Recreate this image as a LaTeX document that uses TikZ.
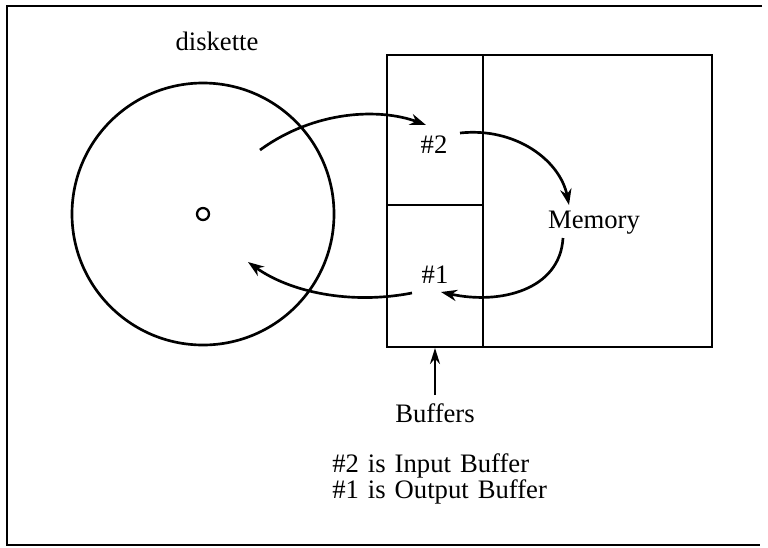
\documentclass[tikz,border=0pt]{standalone}
\usepackage{fontspec}
\setmainfont[WordSpace=1.35]{Liberation Serif}
\usetikzlibrary{arrows.meta}
\begin{document}
\begin{tikzpicture}[x=0.75pt,y=-0.75pt,
  lbl/.style={inner sep=0pt, anchor=base, font=\fontsize{20}{24}\selectfont},
  flow/.style={line width=2pt, -{Stealth[length=12pt,width=8.5pt]}},
  frame/.style={line width=1.8pt}]
\useasboundingbox (0,0) rectangle (768,547);
% open frame
\draw[frame] (762,6) -- (7,6) -- (7,545) -- (760,545);
% diskette
\node[circle, draw, line width=2pt, minimum size=262*0.75pt, inner sep=0pt] (disk) at (203,214) {};
\node[circle, draw, line width=1.7pt, minimum size=12*0.75pt, inner sep=0pt] (hole) at (203,214) {};
\node[lbl] (dlabel) at (217,50) {diskette};
% memory block
\node[draw, line width=1.5pt, minimum width=325*0.75pt, minimum height=292*0.75pt, inner sep=0pt] (mem) at (549.5,201) {};
\node[draw, line width=1.5pt, minimum width=96*0.75pt, minimum height=150*0.75pt, inner sep=0pt] (buf2) at (435,130) {};
\node[draw, line width=1.5pt, minimum width=96*0.75pt, minimum height=142*0.75pt, inner sep=0pt] (buf1) at (435,276) {};
\node[lbl] (n2) at (434,153) {\#2};
\node[lbl] (n1) at (435,283) {\#1};
\node[lbl] (memory) at (594,228) {Memory};
\node[lbl] (buffers) at (435,422) {Buffers};
\node[lbl, anchor=base west] (leg2) at (332,472) {\#2 is Input Buffer};
\node[lbl, anchor=base west] (leg1) at (332,498) {\#1 is Output Buffer};
% arrow endpoints
\coordinate (a1s) at (260,150);
\coordinate (a1e) at (426,125);
\coordinate (a2s) at (460,133);
\coordinate (a2e) at (569,205);
\coordinate (a3s) at (563,238);
\coordinate (a3e) at (441,292);
\coordinate (a4s) at (412,293);
\coordinate (a4e) at (248,262);
\coordinate (bufarrow) at (435,395);
\draw[flow] (a1s) .. controls (315,110) and (380,108) .. (a1e);
\draw[flow] (a2s) .. controls (515,127) and (560,160) .. (a2e);
\draw[flow] (a3s) .. controls (560,290) and (500,305) .. (a3e);
\draw[flow] (a4s) .. controls (350,305) and (290,292) .. (a4e);
\draw[line width=1.7pt, -{Stealth[length=12pt,width=7.5pt]}] (bufarrow) -- (buf1.south);
\end{tikzpicture}
\end{document}
